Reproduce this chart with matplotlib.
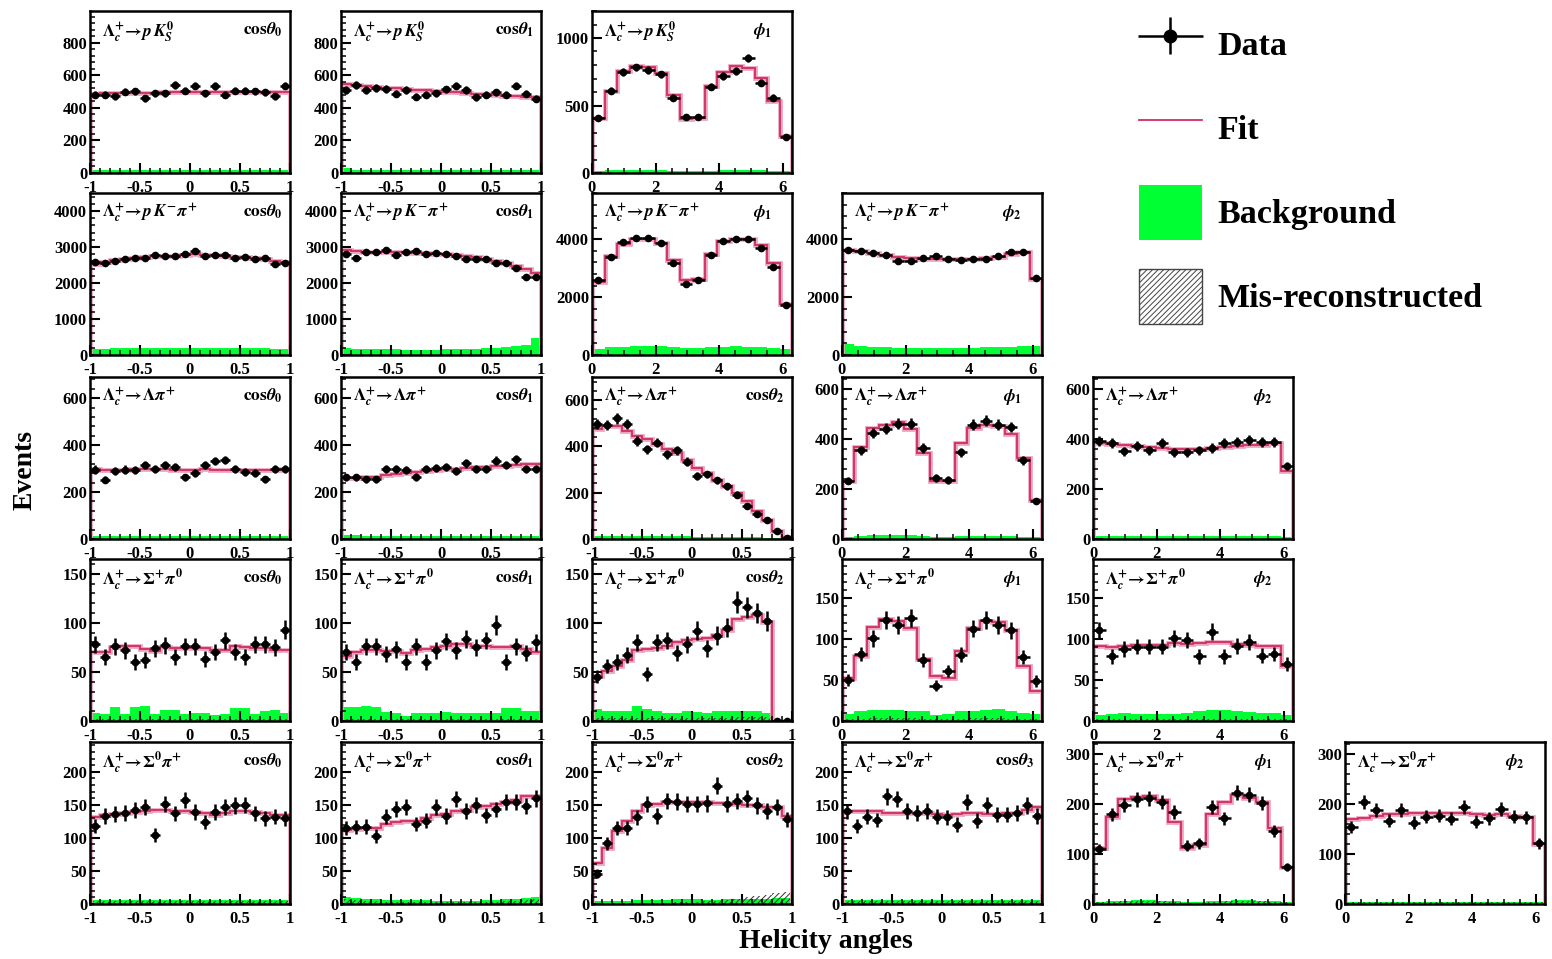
import numpy as np
import matplotlib
matplotlib.use("Agg")
import matplotlib.pyplot as plt
from matplotlib.ticker import MultipleLocator, AutoMinorLocator
from matplotlib.lines import Line2D
from matplotlib.patches import Patch
from matplotlib.legend_handler import HandlerErrorbar

plt.rcParams.update({
    "font.family": ["Liberation Serif", "DejaVu Serif"],
    "font.weight": "bold",
    "mathtext.fontset": "stix",
    "axes.unicode_minus": False,
    "hatch.linewidth": 0.7,
})

# ---- event counts per bin (cos: 20 bins on [-1,1], phi: 16 bins on [0,2pi]) ----
# Lc -> p KS
pks_cos0_data = [481, 481, 471, 500, 502, 459, 490, 490, 541, 506, 537, 490, 533, 481, 506, 506, 502, 496, 471, 537]
pks_cos0_fit = [488, 489, 490, 491, 492, 493, 494, 495, 496, 497, 497, 497, 497, 497, 497, 497, 496, 496, 496, 496]
pks_cos0_bg = [18, 17, 17, 17, 17, 17, 17, 17, 17, 17, 17, 17, 17, 17, 17, 17, 17, 17, 17, 17]

pks_cos1_data = [510, 541, 510, 521, 517, 486, 510, 469, 481, 490, 513, 537, 510, 465, 481, 496, 481, 537, 486, 455]
pks_cos1_fit = [548, 540, 535, 530, 525, 520, 515, 510, 507, 504, 500, 496, 492, 488, 484, 480, 476, 472, 468, 464]
pks_cos1_bg = [32, 20, 18, 18, 18, 18, 18, 18, 18, 18, 18, 18, 18, 18, 18, 18, 18, 18, 18, 18]

pks_phi1_data = [409, 610, 747, 782, 764, 732, 558, 412, 412, 640, 719, 757, 851, 670, 558, 268]
pks_phi1_fit = [404, 610, 752, 794, 784, 744, 578, 397, 404, 645, 747, 789, 781, 702, 536, 273]
pks_phi1_bg = [18, 20, 22, 22, 22, 20, 18, 15, 15, 18, 20, 22, 22, 20, 18, 15]

# Lc -> p K pi
pkpi_cos0_data = [2596, 2569, 2615, 2661, 2707, 2707, 2772, 2753, 2753, 2800, 2892, 2753, 2781, 2772, 2707, 2735, 2661, 2689, 2522, 2550]
pkpi_cos0_fit = [2540, 2590, 2630, 2670, 2700, 2720, 2740, 2750, 2760, 2780, 2800, 2780, 2765, 2750, 2735, 2715, 2690, 2660, 2620, 2570]
pkpi_cos0_bg = [170, 180, 185, 190, 195, 195, 200, 200, 195, 190, 190, 185, 185, 190, 190, 195, 190, 185, 180, 175]

pkpi_cos1_data = [2800, 2689, 2874, 2874, 2911, 2781, 2874, 2892, 2818, 2846, 2818, 2753, 2661, 2680, 2661, 2569, 2550, 2430, 2180, 2180]
pkpi_cos1_fit = [2930, 2880, 2875, 2870, 2865, 2858, 2850, 2840, 2830, 2815, 2800, 2775, 2745, 2710, 2670, 2620, 2560, 2480, 2380, 2290]
pkpi_cos1_bg = [200, 180, 170, 165, 160, 155, 150, 150, 150, 150, 155, 160, 170, 180, 190, 200, 220, 240, 270, 460]

pkpi_phi1_data = [2597, 3390, 3908, 4034, 4034, 3862, 3172, 2448, 2597, 3448, 3942, 4000, 4000, 3712, 3046, 1736]
pkpi_phi1_fit = [2540, 3425, 3827, 4023, 4023, 3862, 3276, 2586, 2643, 3505, 3942, 4000, 4023, 3793, 3172, 1758]
pkpi_phi1_bg = [220, 280, 290, 300, 320, 300, 260, 230, 230, 270, 290, 300, 290, 270, 240, 200]

pkpi_phi2_data = [3620, 3597, 3540, 3448, 3253, 3253, 3345, 3425, 3310, 3276, 3310, 3310, 3425, 3563, 3563, 2678]
pkpi_phi2_fit = [3620, 3580, 3530, 3470, 3400, 3350, 3320, 3320, 3310, 3310, 3330, 3360, 3400, 3480, 3560, 2640]
pkpi_phi2_bg = [380, 320, 280, 260, 250, 250, 250, 250, 250, 250, 250, 260, 270, 290, 320, 300]

# Lc -> Lambda pi
lampi_cos0_data = [296, 253, 289, 296, 293, 315, 298, 315, 305, 262, 283, 315, 333, 337, 298, 286, 282, 254, 298, 298]
lampi_cos0_fit = [297, 296, 296, 296, 297, 298, 298, 297, 296, 295, 296, 298, 292, 292, 294, 295, 296, 296, 296, 297]
lampi_cos0_bg = [12, 12, 11, 11, 11, 11, 11, 11, 12, 12, 12, 12, 12, 12, 11, 11, 11, 11, 11, 11]

lampi_cos1_data = [262, 262, 254, 254, 298, 298, 293, 265, 298, 301, 308, 289, 322, 298, 298, 334, 315, 340, 298, 298]
lampi_cos1_fit = [258, 260, 262, 265, 272, 278, 283, 287, 290, 295, 298, 300, 303, 306, 308, 310, 313, 316, 318, 320]
lampi_cos1_bg = [18, 17, 14, 12, 12, 12, 12, 12, 12, 12, 12, 12, 12, 12, 12, 12, 12, 12, 12, 12]

lampi_cos2_data = [496, 492, 521, 496, 424, 388, 416, 366, 383, 334, 272, 279, 253, 228, 192, 142, 106, 81, 36, 4]
lampi_cos2_fit = [474, 487, 487, 467, 445, 431, 412, 388, 373, 340, 308, 286, 257, 228, 200, 163, 120, 84, 36, 9]
lampi_cos2_bg = [14, 14, 13, 13, 12, 12, 12, 11, 11, 11, 10, 10, 10, 9, 9, 8, 7, 6, 4, 2]

lampi_phi1_data = [234, 356, 426, 443, 462, 462, 366, 245, 238, 348, 459, 475, 459, 449, 315, 154]
lampi_phi1_fit = [232, 368, 446, 459, 469, 443, 345, 232, 232, 386, 446, 459, 453, 423, 323, 158]
lampi_phi1_bg = [10, 14, 16, 16, 16, 16, 14, 10, 10, 12, 12, 12, 12, 12, 10, 8]

lampi_phi2_data = [392, 386, 352, 372, 356, 386, 348, 348, 356, 366, 386, 388, 396, 388, 388, 292]
lampi_phi2_fit = [386, 382, 379, 372, 368, 366, 362, 360, 360, 364, 368, 372, 376, 379, 386, 272]
lampi_phi2_bg = [12, 12, 12, 11, 11, 11, 11, 11, 11, 11, 12, 12, 12, 12, 12, 10]

# Lc -> Sigma+ pi0
sigp_cos0_data = [78, 65, 76, 72, 60, 62, 74, 77, 65, 76, 76, 63, 70, 82, 70, 65, 78, 78, 75, 93]
sigp_cos0_fit = [70, 70, 75, 76, 76, 73, 71, 75, 74, 74, 74, 74, 72, 72, 76, 75, 74, 74, 72, 72]
sigp_cos0_bg = [8, 7, 14, 7, 14, 15, 7, 11, 11, 7, 8, 8, 6, 7, 13, 13, 7, 10, 11, 8]
sigp_cos0_mis = [2, 2, 2, 2, 2, 2, 2, 2, 2, 2, 2, 2, 2, 2, 2, 2, 2, 2, 2, 2]

sigp_cos1_data = [70, 60, 76, 76, 68, 73, 60, 76, 60, 72, 81, 72, 84, 75, 82, 98, 60, 76, 69, 80]
sigp_cos1_fit = [66, 70, 72, 72, 71, 71, 69, 72, 73, 75, 76, 78, 78, 76, 76, 75, 75, 76, 73, 70]
sigp_cos1_bg = [14, 14, 15, 14, 9, 8, 5, 8, 8, 8, 9, 8, 8, 8, 8, 8, 13, 13, 10, 10]
sigp_cos1_mis = [2, 2, 2, 2, 2, 2, 2, 2, 2, 2, 2, 2, 2, 2, 2, 2, 2, 2, 2, 2]

sigp_cos2_data = [45, 56, 60, 67, 80, 48, 80, 82, 69, 78, 92, 74, 87, 95, 121, 116, 110, 102, 0, 0]
sigp_cos2_fit = [46, 51, 56, 62, 72, 73, 74, 76, 80, 82, 84, 85, 88, 93, 104, 106, 108, 101, 0, 0]
sigp_cos2_bg = [12, 10, 10, 10, 15, 12, 10, 8, 8, 10, 9, 8, 10, 10, 10, 10, 10, 8, 0, 0]
sigp_cos2_mis = [3, 3, 3, 3, 3, 3, 3, 3, 3, 3, 3, 3, 3, 3, 4, 4, 4, 4, 0, 0]

sigp_phi1_data = [50, 82, 101, 123, 117, 126, 74, 43, 61, 81, 113, 123, 117, 111, 78, 49]
sigp_phi1_fit = [52, 80, 115, 125, 122, 114, 76, 55, 53, 86, 114, 122, 121, 111, 67, 37]
sigp_phi1_bg = [8, 12, 14, 14, 14, 12, 12, 7, 8, 12, 12, 14, 15, 12, 10, 8]
sigp_phi1_mis = [3, 3, 4, 4, 4, 4, 3, 3, 3, 3, 4, 4, 4, 3, 3, 3]

sigp_phi2_data = [111, 79, 88, 91, 91, 91, 101, 99, 79, 109, 79, 92, 97, 80, 82, 70]
sigp_phi2_fit = [92, 91, 92, 93, 93, 93, 95, 94, 95, 96, 97, 94, 93, 92, 92, 67]
sigp_phi2_bg = [7, 8, 10, 8, 8, 8, 8, 10, 12, 14, 14, 12, 11, 10, 10, 7]
sigp_phi2_mis = [3, 3, 3, 3, 3, 3, 3, 3, 3, 3, 3, 3, 3, 3, 3, 3]

# Lc -> Sigma0 pi+
sig0_cos0_data = [118, 133, 136, 138, 142, 147, 104, 151, 137, 157, 139, 124, 139, 147, 149, 150, 137, 130, 132, 130]
sig0_cos0_fit = [131, 134, 136, 138, 139, 141, 142, 142, 141, 140, 139, 138, 135, 138, 140, 141, 139, 137, 135, 134]
sig0_cos0_bg = [6, 6, 6, 6, 6, 6, 6, 6, 6, 6, 6, 6, 6, 6, 6, 6, 6, 6, 6, 6]
sig0_cos0_mis = [5, 5, 5, 5, 5, 5, 5, 5, 5, 5, 5, 5, 5, 5, 5, 5, 5, 5, 5, 5]

sig0_cos1_data = [115, 116, 117, 103, 132, 144, 146, 121, 126, 146, 133, 159, 141, 150, 134, 143, 154, 154, 148, 160]
sig0_cos1_fit = [112, 113, 115, 115, 121, 124, 125, 126, 130, 134, 136, 140, 142, 146, 148, 151, 155, 158, 163, 164]
sig0_cos1_bg = [10, 9, 8, 7, 6, 6, 6, 6, 6, 5, 5, 5, 5, 5, 6, 6, 7, 8, 9, 10]
sig0_cos1_mis = [8, 6, 5, 4, 3, 3, 3, 3, 3, 3, 3, 3, 3, 3, 3, 3, 4, 5, 6, 7]

sig0_cos2_data = [46, 92, 115, 115, 131, 151, 133, 156, 155, 151, 151, 152, 179, 151, 156, 160, 149, 141, 146, 128]
sig0_cos2_fit = [62, 85, 110, 126, 141, 149, 151, 154, 154, 155, 155, 154, 152, 152, 151, 150, 149, 147, 147, 133]
sig0_cos2_bg = [4, 4, 5, 5, 6, 6, 6, 6, 7, 7, 7, 6, 6, 7, 8, 8, 8, 8, 9, 9]
sig0_cos2_mis = [2, 2, 2, 2, 2, 2, 2, 2, 3, 3, 3, 4, 5, 6, 8, 10, 12, 14, 16, 18]

sig0_cos3_data = [140, 118, 132, 127, 163, 159, 141, 138, 141, 132, 131, 120, 154, 126, 150, 135, 135, 138, 149, 133]
sig0_cos3_fit = [141, 141, 140, 140, 137, 137, 137, 137, 137, 136, 135, 136, 137, 138, 136, 136, 138, 138, 142, 146]
sig0_cos3_bg = [6, 6, 6, 6, 6, 6, 6, 6, 6, 6, 6, 6, 6, 6, 6, 6, 6, 6, 6, 6]
sig0_cos3_mis = [5, 5, 5, 5, 5, 5, 5, 5, 5, 5, 5, 5, 5, 5, 5, 5, 5, 5, 5, 5]

sig0_phi1_data = [110, 180, 199, 210, 212, 205, 185, 117, 122, 194, 172, 223, 219, 202, 147, 74]
sig0_phi1_fit = [112, 175, 211, 215, 217, 209, 165, 113, 119, 180, 205, 219, 213, 205, 152, 75]
sig0_phi1_bg = [5, 6, 7, 8, 8, 7, 6, 4, 4, 6, 7, 8, 8, 7, 6, 5]
sig0_phi1_mis = [4, 5, 6, 7, 7, 6, 5, 3, 3, 5, 6, 7, 7, 6, 5, 4]

sig0_phi2_data = [154, 205, 189, 167, 189, 163, 175, 177, 171, 195, 165, 172, 190, 175, 174, 122]
sig0_phi2_fit = [170, 172, 177, 180, 180, 182, 182, 182, 183, 183, 180, 178, 180, 177, 175, 120]
sig0_phi2_bg = [5, 5, 5, 5, 5, 5, 5, 5, 5, 5, 5, 5, 5, 5, 5, 5]
sig0_phi2_mis = [4, 4, 4, 4, 4, 4, 4, 4, 4, 4, 4, 4, 4, 4, 4, 4]

COS_TICKS = [-1, -0.5, 0, 0.5, 1]
COS_TICK_LABELS = ["-1", "-0.5", "0", "0.5", "1"]
COS_EDGES = np.linspace(-1, 1, 21)
PHI_EDGES = np.linspace(0, 2 * np.pi, 17)

PKS = r"$\Lambda_c^{+}\!\rightarrow\! p\,K_S^0$"
PKPI = r"$\Lambda_c^{+}\!\rightarrow\! p\,K^{-}\pi^{+}$"
LAMPI = r"$\Lambda_c^{+}\!\rightarrow\!\Lambda\pi^{+}$"
SIGP = r"$\Lambda_c^{+}\!\rightarrow\!\Sigma^{+}\pi^{0}$"
SIG0 = r"$\Lambda_c^{+}\!\rightarrow\!\Sigma^{0}\pi^{+}$"
COS = [r"$\mathbf{cos}\theta_{%d}$" % i for i in range(4)]
PHI = [None, r"$\phi_{1}$", r"$\phi_{2}$"]

GREEN = "#00ff33"
FIT = "#cf2d63"
FIT_HALO = "#eda3bd"

# row, col, channel, variable, kind, ymax, ystep, data, fit, bg, mis
PANELS = [
    (0, 0, PKS, COS[0], "cos", 995, 200, pks_cos0_data, pks_cos0_fit, pks_cos0_bg, None),
    (0, 1, PKS, COS[1], "cos", 995, 200, pks_cos1_data, pks_cos1_fit, pks_cos1_bg, None),
    (0, 2, PKS, PHI[1], "phi", 1200, 500, pks_phi1_data, pks_phi1_fit, pks_phi1_bg, None),
    (1, 0, PKPI, COS[0], "cos", 4500, 1000, pkpi_cos0_data, pkpi_cos0_fit, pkpi_cos0_bg, None),
    (1, 1, PKPI, COS[1], "cos", 4500, 1000, pkpi_cos1_data, pkpi_cos1_fit, pkpi_cos1_bg, None),
    (1, 2, PKPI, PHI[1], "phi", 5600, 2000, pkpi_phi1_data, pkpi_phi1_fit, pkpi_phi1_bg, None),
    (1, 3, PKPI, PHI[2], "phi", 5600, 2000, pkpi_phi2_data, pkpi_phi2_fit, pkpi_phi2_bg, None),
    (2, 0, LAMPI, COS[0], "cos", 690, 200, lampi_cos0_data, lampi_cos0_fit, lampi_cos0_bg, None),
    (2, 1, LAMPI, COS[1], "cos", 690, 200, lampi_cos1_data, lampi_cos1_fit, lampi_cos1_bg, None),
    (2, 2, LAMPI, COS[2], "cos", 700, 200, lampi_cos2_data, lampi_cos2_fit, lampi_cos2_bg, None),
    (2, 3, LAMPI, PHI[1], "phi", 650, 200, lampi_phi1_data, lampi_phi1_fit, lampi_phi1_bg, None),
    (2, 4, LAMPI, PHI[2], "phi", 650, 200, lampi_phi2_data, lampi_phi2_fit, lampi_phi2_bg, None),
    (3, 0, SIGP, COS[0], "cos", 165, 50, sigp_cos0_data, sigp_cos0_fit, sigp_cos0_bg, sigp_cos0_mis),
    (3, 1, SIGP, COS[1], "cos", 165, 50, sigp_cos1_data, sigp_cos1_fit, sigp_cos1_bg, sigp_cos1_mis),
    (3, 2, SIGP, COS[2], "cos", 165, 50, sigp_cos2_data, sigp_cos2_fit, sigp_cos2_bg, sigp_cos2_mis),
    (3, 3, SIGP, PHI[1], "phi", 198, 50, sigp_phi1_data, sigp_phi1_fit, sigp_phi1_bg, sigp_phi1_mis),
    (3, 4, SIGP, PHI[2], "phi", 198, 50, sigp_phi2_data, sigp_phi2_fit, sigp_phi2_bg, sigp_phi2_mis),
    (4, 0, SIG0, COS[0], "cos", 245, 50, sig0_cos0_data, sig0_cos0_fit, sig0_cos0_bg, sig0_cos0_mis),
    (4, 1, SIG0, COS[1], "cos", 245, 50, sig0_cos1_data, sig0_cos1_fit, sig0_cos1_bg, sig0_cos1_mis),
    (4, 2, SIG0, COS[2], "cos", 245, 50, sig0_cos2_data, sig0_cos2_fit, sig0_cos2_bg, sig0_cos2_mis),
    (4, 3, SIG0, COS[3], "cos", 245, 50, sig0_cos3_data, sig0_cos3_fit, sig0_cos3_bg, sig0_cos3_mis),
    (4, 4, SIG0, PHI[1], "phi", 325, 100, sig0_phi1_data, sig0_phi1_fit, sig0_phi1_bg, sig0_phi1_mis),
    (4, 5, SIG0, PHI[2], "phi", 325, 100, sig0_phi2_data, sig0_phi2_fit, sig0_phi2_bg, sig0_phi2_mis),
]

# grid geometry in pixels (figure is 1552 x 959)
FIG_W, FIG_H = 1552, 959
COL_X = [90, 341, 592, 842, 1093, 1345]
ROW_Y = [11, 193, 377, 559, 742]
PANEL_W, PANEL_H = 200, 162


def draw_panel(ax, channel, var, kind, ymax, ystep, data, fit, bg, mis):
    """One helicity-angle histogram: background, mis-reco, fit and data."""
    edges = COS_EDGES if kind == "cos" else PHI_EDGES
    centers = 0.5 * (edges[1:] + edges[:-1])
    half = 0.5 * np.diff(edges)

    ax.stairs(bg, edges, fill=True, color=GREEN, lw=0)
    if mis is not None:
        ax.stairs(mis, edges, fill=True, facecolor="none", edgecolor="#333333",
                  hatch="//////", lw=0)
    ax.stairs(fit, edges, color=FIT_HALO, lw=3.4)
    ax.stairs(fit, edges, color=FIT, lw=1.3)

    d = np.asarray(data, dtype=float)
    ax.errorbar(centers, d, xerr=half, yerr=np.sqrt(d), fmt="o", ms=4.5,
                color="black", elinewidth=1.8, capsize=0, zorder=5)

    ax.set_xlim(edges[0], edges[-1])
    ax.set_ylim(0, ymax)
    if kind == "cos":
        ax.set_xticks(COS_TICKS, COS_TICK_LABELS)
        ax.xaxis.set_minor_locator(MultipleLocator(0.1))
        xr = 0.965
    else:
        ax.xaxis.set_major_locator(MultipleLocator(2))
        ax.xaxis.set_minor_locator(MultipleLocator(0.5))
        xr = 0.90
    ax.yaxis.set_major_locator(MultipleLocator(ystep))
    ax.yaxis.set_minor_locator(AutoMinorLocator(5))
    ax.tick_params(which="both", direction="in", top=False, right=False,
                   labelsize=12, pad=2)
    ax.tick_params(axis="x", pad=5)
    ax.tick_params(which="major", length=7, width=1.5)
    ax.tick_params(which="minor", length=3.5, width=1.1)
    for s in ax.spines.values():
        s.set_linewidth(1.8)

    ax.text(0.06, 0.95, channel, transform=ax.transAxes, ha="left", va="top",
            fontsize=12.5)
    ax.text(xr, 0.94, var, transform=ax.transAxes, ha="right", va="top",
            fontsize=12.5)


fig = plt.figure(figsize=(FIG_W / 100, FIG_H / 100), dpi=100)
fig.patch.set_facecolor("white")

legend_data = None
for row, col, channel, var, kind, ymax, ystep, data, fit, bg, mis in PANELS:
    left = COL_X[col] / FIG_W
    bottom = 1 - (ROW_Y[row] + PANEL_H) / FIG_H
    ax = fig.add_axes([left, bottom, PANEL_W / FIG_W, PANEL_H / FIG_H])
    draw_panel(ax, channel, var, kind, ymax, ystep, data, fit, bg, mis)
    if legend_data is None:
        legend_data = ax.containers[0]

fig.text(25 / FIG_W, 1 - 470 / FIG_H, "Events", rotation=90, ha="center",
         va="center", fontsize=20, fontweight="bold")
fig.text(826 / FIG_W, 1 - 942 / FIG_H, "Helicity angles", ha="center",
         va="center", fontsize=20, fontweight="bold")

handles = [
    legend_data,
    Line2D([], [], color=FIT, lw=1.3),
    Patch(facecolor=GREEN, edgecolor="none"),
    Patch(facecolor="white", edgecolor="#444444", hatch="//////", lw=1.0),
]
labels = ["Data", "Fit", "Background", "Mis-reconstructed"]
fig.legend(handles, labels, loc="upper left",
           bbox_to_anchor=(1108 / FIG_W, 1 + 14 / FIG_H), frameon=False,
           fontsize=24.5, handlelength=1.86, handleheight=2.12, labelspacing=0.85,
           handletextpad=0.45, markerscale=2.0,
           handler_map={type(legend_data): HandlerErrorbar(xerr_size=0.95, yerr_size=0.55)})

fig.savefig("out.png", dpi=100, facecolor="white")
